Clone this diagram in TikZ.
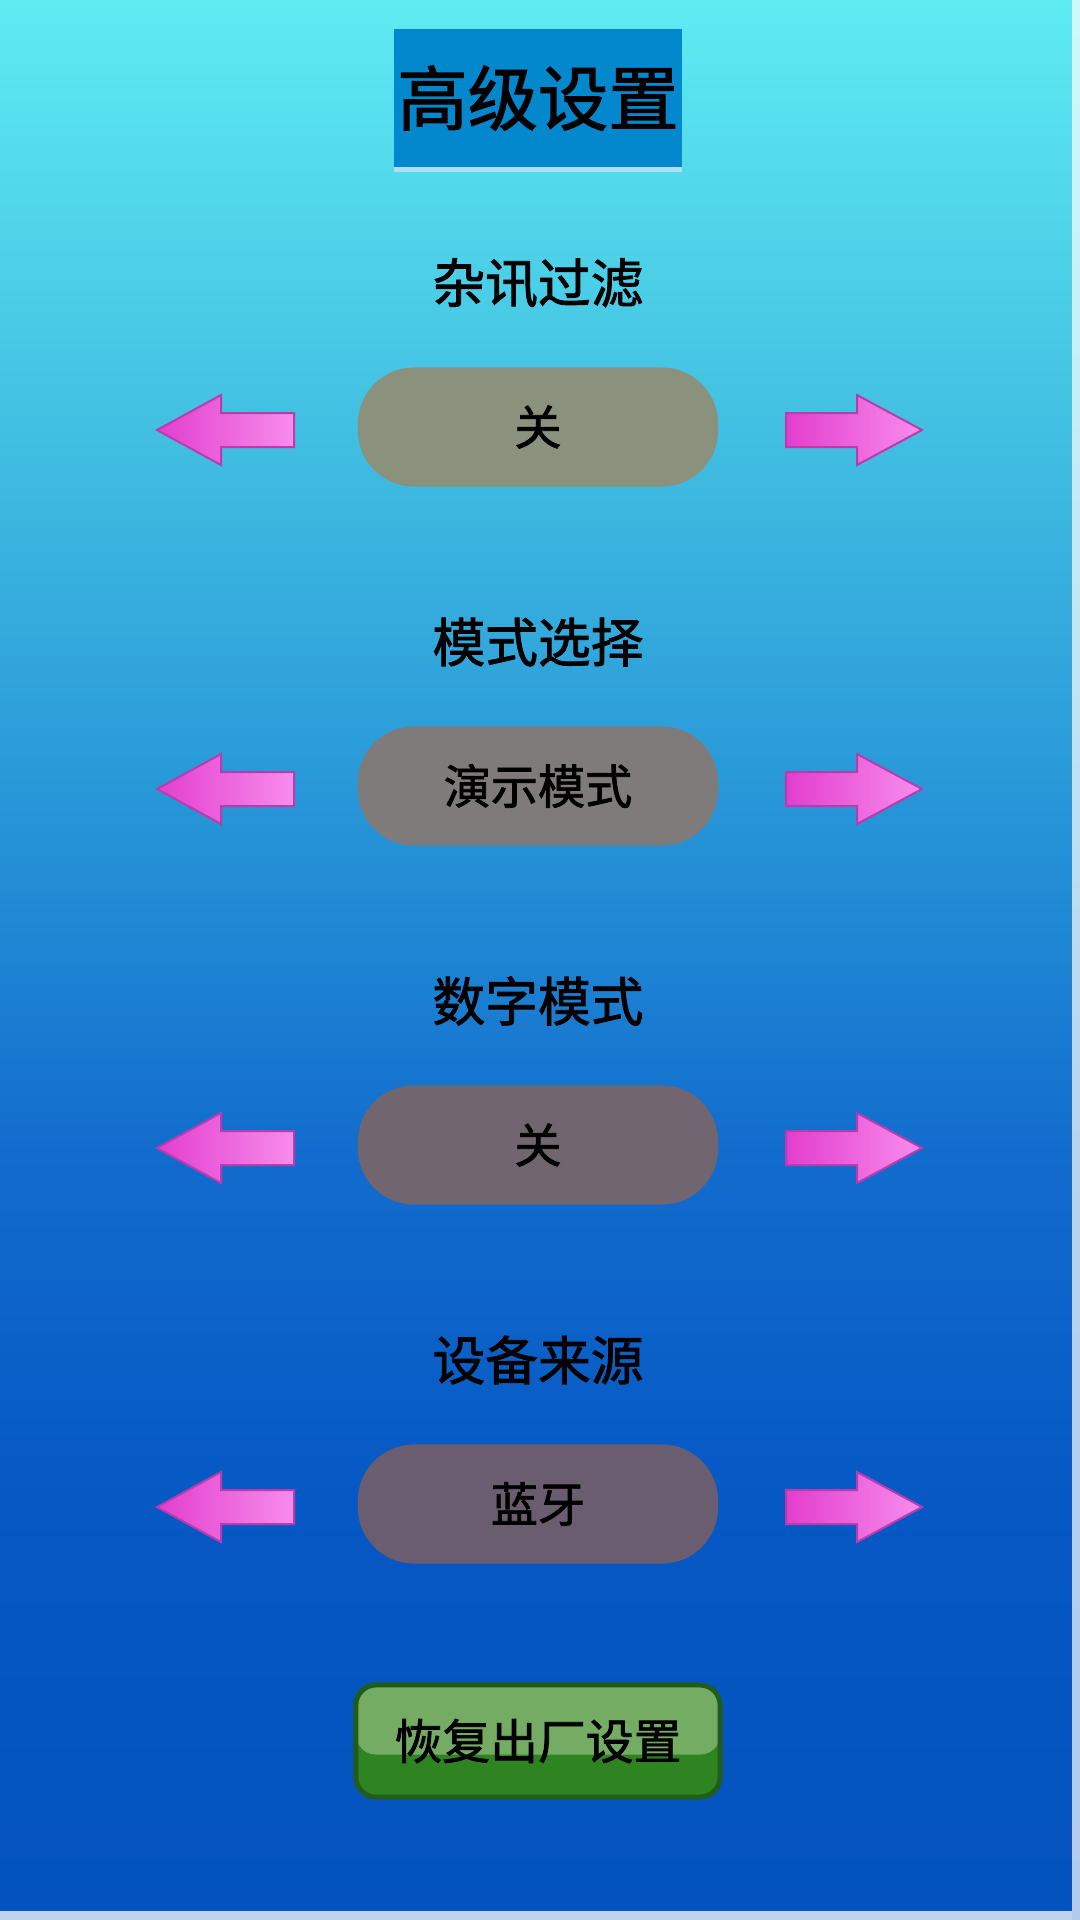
\documentclass[tikz,border=0pt]{standalone}
\usepackage{fontspec}
\newfontfamily\cjk{Noto Sans CJK SC}[FakeBold=1.6]
\usepackage{tikz}

\definecolor{titleblue}{RGB}{3,136,206}
\definecolor{titleline}{RGB}{170,225,242}
\definecolor{arrowdark}{RGB}{226,62,206}
\definecolor{arrowlight}{RGB}{248,140,236}
\definecolor{arrowedge}{RGB}{185,60,175}
\definecolor{pillA}{RGB}{138,146,126}
\definecolor{pillB}{RGB}{127,123,122}
\definecolor{pillC}{RGB}{113,102,112}
\definecolor{pillD}{RGB}{106,93,112}
\definecolor{btntop}{RGB}{116,172,100}
\definecolor{btnbottom}{RGB}{46,132,32}
\definecolor{btnedge}{RGB}{34,92,28}

% background, bottom to top (25bp .. 75bp covers the page)
\pgfdeclareverticalshading{bgshade}{100bp}{%
  rgb(0bp)=(0.012,0.322,0.745);
  rgb(25bp)=(0.012,0.322,0.745);
  rgb(36bp)=(0.024,0.345,0.769);
  rgb(45bp)=(0.070,0.423,0.804);
  rgb(54.5bp)=(0.157,0.596,0.847);
  rgb(64bp)=(0.259,0.753,0.886);
  rgb(75bp)=(0.369,0.922,0.949);
  rgb(100bp)=(0.369,0.922,0.949)}

\tikzset{
  heading/.style={font=\cjk\fontsize{15pt}{15pt}\selectfont, text=black},
  pillbox/.style={rounded corners=0.56cm, minimum width=3.6cm, minimum height=1.19cm,
    inner sep=0pt, font=\cjk\fontsize{13.4pt}{13.4pt}\selectfont},
  pinkarrow/.style={left color=arrowdark, right color=arrowlight, draw=arrowedge, line width=0.02cm}
}

\begin{document}
\begin{tikzpicture}[x=0.01cm, y=-0.01cm]
    \useasboundingbox (0,0) rectangle (1080,1920);
    \shade[shading=bgshade] (0,0) rectangle (1080,1920);
    \fill[white, opacity=0.7] (1072,0) rectangle (1080,1920);
    \fill[white, opacity=0.75] (0,1911) rectangle (1072,1920);

    % title
    \fill[titleline] (394,167) rectangle (682,172);
    \node[fill=titleblue, minimum width=2.88cm, minimum height=1.38cm, inner sep=0pt,
      font=\cjk\fontsize{20pt}{20pt}\selectfont] (title) at (538,98) {高级设置};

    % the four settings
    \foreach \lab/\val/\col [count=\i] in {杂讯过滤/关/pillA, 模式选择/演示模式/pillB, 数字模式/关/pillC, 设备来源/蓝牙/pillD} {
      \pgfmathsetmacro{\py}{427+359*(\i-1)}
      \begin{scope}[shift={(0,\py)}]
        \node[heading] (label\i) at (538,-144) {\lab};
        \node[pillbox, fill=\col] (pill\i) at (538,0) {\val};
        \shade[pinkarrow] (157,3) -- (221,-32) -- (221,-14) -- (294,-14) -- (294,20) -- (221,20) -- (221,38) -- cycle;
        \shade[pinkarrow] (786,-14) -- (857,-14) -- (857,-32) -- (922,3) -- (857,38) -- (857,20) -- (786,20) -- cycle;
      \end{scope}
    }

    % reset button
    \node[draw=btnedge, line width=0.05cm, fill=btnbottom, rounded corners=0.2cm,
      minimum width=3.64cm, minimum height=1.12cm, inner sep=0pt,
      font=\cjk\fontsize{13.6pt}{13.6pt}\selectfont,
      path picture={\fill[btntop] (path picture bounding box.north west) rectangle ([yshift=-0.135cm]path picture bounding box.east);}]
      (reset) at (538,1741) {恢复出厂设置};
\end{tikzpicture}
\end{document}
